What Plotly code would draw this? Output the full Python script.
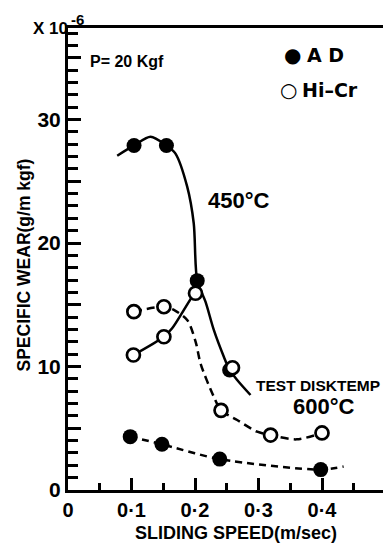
import plotly.graph_objects as go

# ---------------- data ----------------
ad_450_speed = [0.104, 0.155, 0.2035, 0.2545]
ad_450_wear = [27.9, 27.9, 16.95, 9.72]
ad_600_speed = [0.098, 0.148, 0.239, 0.398]
ad_600_wear = [4.32, 3.7, 2.5, 1.65]
hicr_450_speed = [0.103, 0.151, 0.2008, 0.259]
hicr_450_wear = [10.93, 12.41, 15.93, 9.9]
hicr_600_speed = [0.1037, 0.151, 0.241, 0.319, 0.400]
hicr_600_wear = [14.44, 14.84, 6.45, 4.45, 4.62]

curve_ad_450_speed = [0.0775, 0.104, 0.130, 0.155, 0.169, 0.1877, 0.198, 0.2035,
                      0.2165, 0.2296, 0.2454, 0.2545, 0.2664, 0.2874]
curve_ad_450_wear = [27.07, 27.9, 28.61, 27.9, 27.26, 24.56, 21.6, 16.95,
                     15.25, 12.96, 10.79, 9.72, 8.91, 7.69]
curve_hicr_450_speed = [0.103, 0.151, 0.164, 0.1956, 0.2008]
curve_hicr_450_wear = [10.93, 12.41, 13.09, 15.65, 15.93]
curve_hicr_600_speed = [0.1037, 0.151, 0.168, 0.188, 0.201, 0.209, 0.2296,
                        0.241, 0.2664, 0.298, 0.319, 0.36, 0.400]
curve_hicr_600_wear = [14.44, 14.84, 14.55, 13.75, 12.0, 10.2, 7.55,
                       6.45, 5.67, 4.72, 4.45, 4.1, 4.62]
curve_ad_600_speed = [0.098, 0.148, 0.239, 0.398, 0.434]
curve_ad_600_wear = [4.32, 3.7, 2.5, 1.65, 1.9]

x_tick_vals = [0, 0.1, 0.2, 0.3, 0.4]
x_tick_text = ["0", "0·1", "0·2", "0·3", "0·4"]
y_tick_vals = [0, 5, 10, 15, 20, 25, 30, 35]
y_tick_text = ["0", "", "10", "", "20", "", "30", ""]

series_names = ["A D", "Hi–Cr"]

# ---------------- layout geometry ----------------
W, H = 383, 545
ML, MR, MT, MB = 68, 0, 28, 55
PW, PH = W - ML - MR, H - MT - MB
X_MAX = PW / 635.0
Y_MAX = PH / 12.35

FONT = "Liberation Sans"


def px(xp):
    return (xp - ML) / PW


def py(yp):
    return (H - MB - yp) / PH


fig = go.Figure()

solid = dict(color="black", width=2.5, shape="spline", smoothing=0.8)
dashed = dict(color="black", width=2.5, shape="spline", smoothing=0.8, dash="8px,5px")

fig.add_trace(go.Scatter(x=curve_ad_450_speed, y=curve_ad_450_wear, mode="lines",
                         line=solid, showlegend=False, hoverinfo="skip"))
fig.add_trace(go.Scatter(x=curve_hicr_450_speed, y=curve_hicr_450_wear, mode="lines",
                         line=solid, showlegend=False, hoverinfo="skip"))
fig.add_trace(go.Scatter(x=curve_hicr_600_speed, y=curve_hicr_600_wear, mode="lines",
                         line=dashed, showlegend=False, hoverinfo="skip"))
fig.add_trace(go.Scatter(x=curve_ad_600_speed, y=curve_ad_600_wear, mode="lines",
                         line=dict(dashed, dash="7px,5px"), showlegend=False, hoverinfo="skip"))

fig.add_trace(go.Scatter(
    x=ad_450_speed + ad_600_speed, y=ad_450_wear + ad_600_wear, mode="markers",
    name=series_names[0], showlegend=False,
    marker=dict(symbol="circle", size=15, color="black", line=dict(width=0))))
fig.add_trace(go.Scatter(
    x=hicr_450_speed + hicr_600_speed, y=hicr_450_wear + hicr_600_wear, mode="markers",
    name=series_names[1], showlegend=False,
    marker=dict(symbol="circle", size=13, color="white", line=dict(width=2.7, color="black"))))


def txt(s, xp, yp, size, xanchor="center", angle=0, family=FONT):
    return dict(text=s, x=px(xp), y=py(yp), xref="paper", yref="paper",
                xanchor=xanchor, yanchor="middle", showarrow=False, textangle=angle,
                font=dict(family=family, size=size, color="black", weight="bold"))


annotations = [
    txt("X 10", 70, 29, 17, xanchor="right"),
    txt("-6", 77, 19, 15),
    txt("P= 20 Kgf", 88, 61.5, 16, xanchor="left"),
    txt("●", 292, 55, 20, family="DejaVu Sans"),
    txt(series_names[0], 305, 55, 19, xanchor="left", family="DejaVu Sans"),
    txt("○", 288, 90, 20, family="DejaVu Sans"),
    txt(series_names[1], 300, 90, 19, xanchor="left", family="DejaVu Sans"),
    txt("450°C", 239, 200, 22),
    txt("TEST DISKTEMP", 382, 385.5, 15.5, xanchor="right"),
    txt("600°C", 324, 406.5, 22),
    txt("SLIDING SPEED(m/sec)", 236, 533, 18),
    txt("SPECIFIC WEAR(g/m kgf)", 23, 265.5, 17.5, angle=-90),
]

fig.update_layout(
    width=W, height=H,
    margin=dict(l=ML, r=MR, t=MT, b=MB),
    paper_bgcolor="white", plot_bgcolor="white",
    showlegend=False,
    annotations=annotations,
    xaxis=dict(range=[0, X_MAX], showgrid=False, zeroline=False,
               showline=True, linecolor="black", linewidth=3, mirror=True,
               tickvals=x_tick_vals, ticktext=x_tick_text,
               ticks="inside", ticklen=12, tickwidth=2.5, tickcolor="black",
               tickfont=dict(family=FONT, size=20, color="black", weight="bold"),
               minor=dict(ticks="inside", dtick=0.05, ticklen=7, tickwidth=2.5,
                          tickcolor="black")),
    yaxis=dict(range=[0, Y_MAX], showgrid=False, zeroline=False,
               showline=True, linecolor="black", linewidth=3,
               tickvals=y_tick_vals, ticktext=y_tick_text,
               ticks="inside", ticklen=13, tickwidth=2.5, tickcolor="black",
               tickfont=dict(family=FONT, size=21, color="black", weight="bold"),
               minor=dict(ticks="inside", dtick=1, ticklen=10, tickwidth=2.5,
                          tickcolor="black")),
)

fig.write_html("out.html")
